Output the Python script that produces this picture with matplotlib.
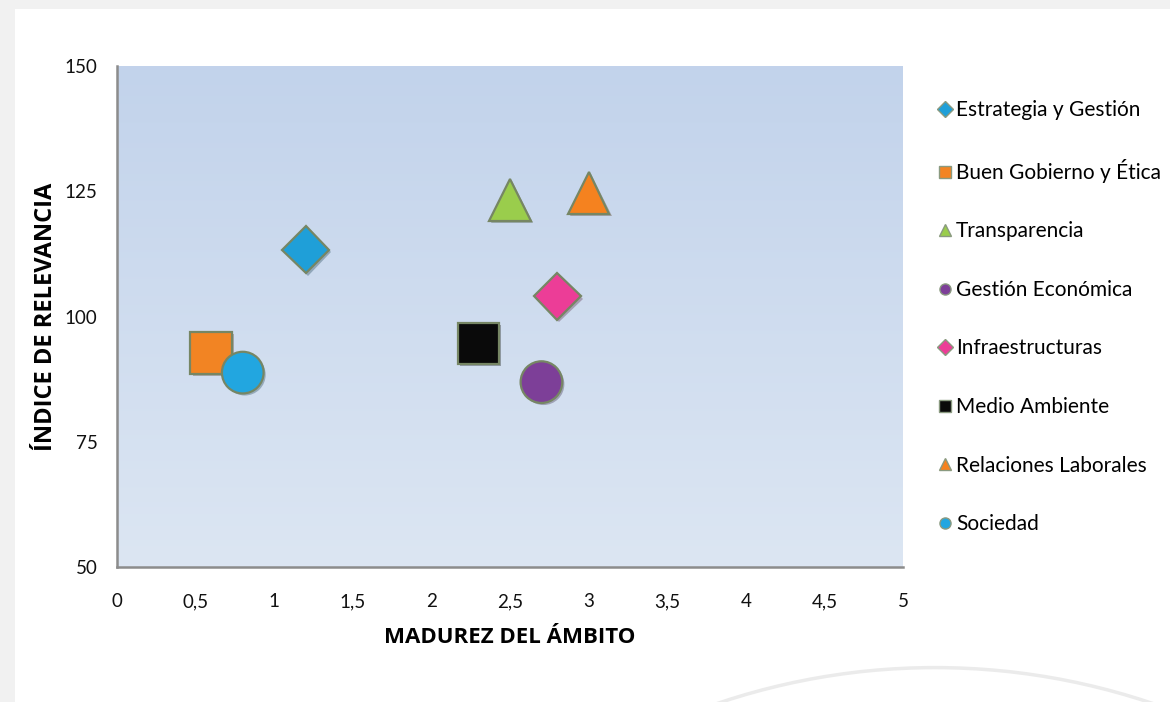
import numpy as np
import matplotlib.pyplot as plt
from matplotlib.lines import Line2D
from matplotlib.patches import Rectangle, Ellipse
import matplotlib.patheffects as pe

plt.rcParams['font.family'] = ['Lato', 'DejaVu Sans']

ambitos = ['Estrategia y Gestión', 'Buen Gobierno y Ética', 'Transparencia',
           'Gestión Económica', 'Infraestructuras', 'Medio Ambiente',
           'Relaciones Laborales', 'Sociedad']
madurez = [1.2, 0.6, 2.5, 2.7, 2.8, 2.3, 3.0, 0.8]
relevancia = [113.3, 92.7, 123.3, 86.9, 104.0, 94.6, 124.7, 88.8]
marcadores = ['D', 's', '^', 'o', 'D', 's', '^', 'o']
colores = ['#1f9fd8', '#f28423', '#9acd4c', '#7d3f98', '#ec3d97', '#0a0a0a',
           '#f5821f', '#22a6e0']
tamanos = [24, 30, 30, 30, 24, 30, 30, 30]

fig = plt.figure(figsize=(11.7, 7.02), dpi=100, facecolor='#f1f1f1')
# white card with a soft grey margin at top/left
fig.patches.append(Rectangle((15 / 1170, 0), 1, (702 - 9) / 702,
                             transform=fig.transFigure, facecolor='white',
                             edgecolor='none', zorder=0))
fig.patches.append(Ellipse((935 / 1170, -0.916), 1.159, 1.93,
                           transform=fig.transFigure, facecolor='white',
                           edgecolor='#ebebeb', linewidth=2.5, zorder=0.5))

ax = fig.add_axes([117 / 1170, (702 - 567) / 702, (903 - 117) / 1170, (567 - 66) / 702])
ax.set_zorder(2)
ax.set_xlim(0, 5)
ax.set_ylim(50, 150)

# vertical gradient background
grad = np.linspace(0, 1, 256).reshape(-1, 1)
top = np.array([0.761, 0.827, 0.922])
bot = np.array([0.863, 0.902, 0.953])
img = top + (bot - top) * grad[:, :, None]
ax.imshow(img, extent=[0, 5, 50, 150], aspect='auto', origin='upper', zorder=0)

shadow = [pe.SimplePatchShadow(offset=(1.5, -1.5), alpha=0.3), pe.Normal()]
for i in range(len(ambitos)):
    ax.plot(madurez[i], relevancia[i], marker=marcadores[i], markersize=tamanos[i],
            color=colores[i], markeredgecolor='#768664', markeredgewidth=1.6,
            linestyle='none', zorder=3, path_effects=shadow)

ax.set_xticks(np.arange(0, 5.01, 0.5))
ax.set_xticklabels(['0', '0,5', '1', '1,5', '2', '2,5', '3', '3,5', '4', '4,5', '5'])
ax.set_yticks([50, 75, 100, 125, 150])
ax.tick_params(length=0, labelsize=13.5, colors='#111111')
ax.tick_params(axis='x', pad=19)
ax.tick_params(axis='y', pad=14)
for s in ['top', 'right']:
    ax.spines[s].set_visible(False)
for s in ['left', 'bottom']:
    ax.spines[s].set_color('#8c8c8c')
    ax.spines[s].set_linewidth(1.8)

ax.set_xlabel('MADUREZ DEL ÁMBITO', fontsize=16, fontweight='bold', labelpad=12,
              family=['Open Sans', 'DejaVu Sans'])
ax.set_ylabel('ÍNDICE DE RELEVANCIA', fontsize=17, fontweight='bold', labelpad=5,
              family=['Open Sans', 'DejaVu Sans'])

handles = [Line2D([], [], marker=marcadores[i], color=colores[i], linestyle='none',
                  markersize=8, markeredgecolor='#8a9a80', markeredgewidth=1)
           for i in range(len(ambitos))]
leg = fig.legend(handles, ambitos, loc='upper left', bbox_to_anchor=(928 / 1170, 1 - 92 / 702),
                 frameon=False, fontsize=15, labelspacing=1.85, handletextpad=0.15,
                 handlelength=0.8, borderaxespad=0)
leg.set_zorder(3)

fig.savefig('out.png', dpi=100, facecolor=fig.get_facecolor())
